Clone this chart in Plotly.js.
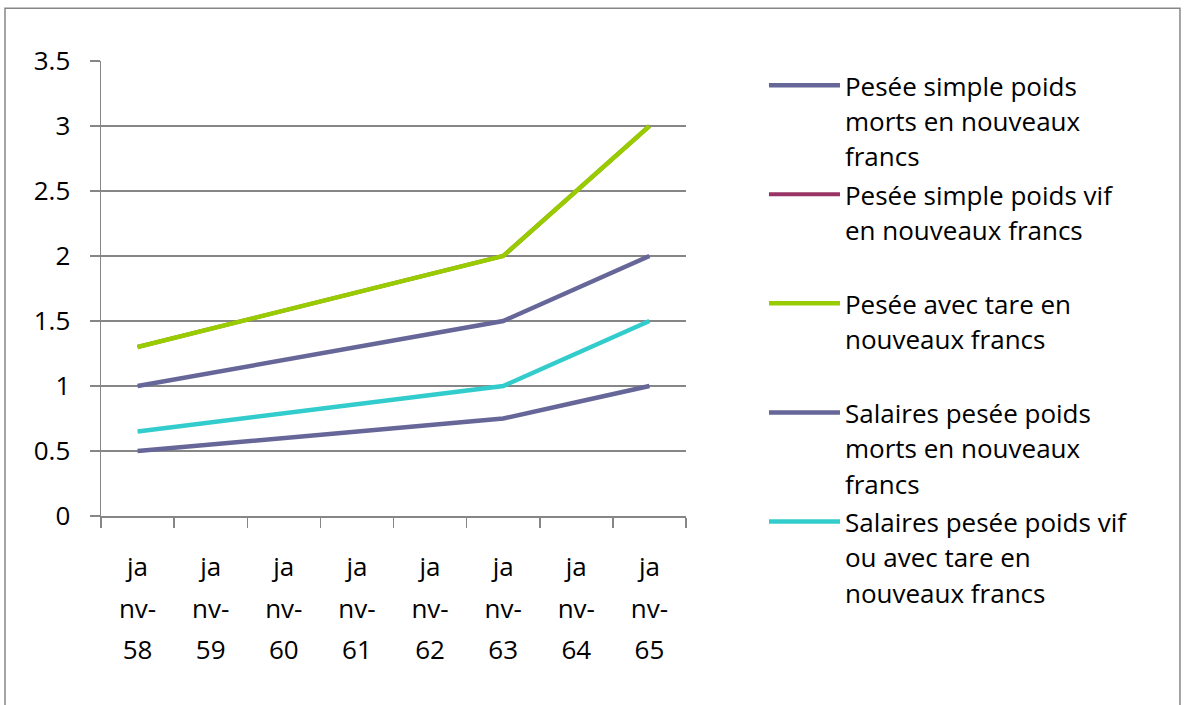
<!DOCTYPE html>
<html><head><meta charset="utf-8">
<script src="https://cdn.plot.ly/plotly-3.0.1.min.js"></script>
<style>html,body{margin:0;padding:0;background:#fff;}#chart{width:1184px;height:705px;}</style>
</head><body><div id="chart"></div>
<script>
// ---- data ----
const categories = ["janv-58","janv-59","janv-60","janv-61","janv-62","janv-63","janv-64","janv-65"];
const tickLines = [
  ["ja","nv-","58"],["ja","nv-","59"],["ja","nv-","60"],["ja","nv-","61"],
  ["ja","nv-","62"],["ja","nv-","63"],["ja","nv-","64"],["ja","nv-","65"]
];
const yTicks = [0, 0.5, 1, 1.5, 2, 2.5, 3, 3.5];
const yTickText = ["0","0.5","1","1.5","2","2.5","3","3.5"];

const nameLines = [
  ["Pesée simple poids","morts en nouveaux","francs"],
  ["Pesée simple poids vif","en nouveaux francs","\u00a0"],
  ["Pesée avec tare en","nouveaux francs","\u00a0"],
  ["Salaires pesée poids","morts en nouveaux","francs"],
  ["Salaires pesée poids vif","ou avec tare en","nouveaux francs"]
];
const pesSimpleMorts = [1.0, 1.1, 1.2, 1.3, 1.4, 1.5, 1.75, 2.0];
const pesSimpleVif   = [1.3, 1.44, 1.58, 1.72, 1.86, 2.0, 2.5, 3.0];
const pesAvecTare    = [1.3, 1.44, 1.58, 1.72, 1.86, 2.0, 2.5, 3.0];
const salMorts       = [0.5, 0.55, 0.6, 0.65, 0.7, 0.75, 0.875, 1.0];
const salVif         = [0.65, 0.72, 0.79, 0.86, 0.93, 1.0, 1.25, 1.5];
const seriesValues = [pesSimpleMorts, pesSimpleVif, pesAvecTare, salMorts, salVif];
const seriesColors = ["#666699", "#993366", "#99CC00", "#666699", "#33CCCC"];

// ---- helpers ----
const FONT = '"Open Sans", "Noto Sans", sans-serif';
const GRAY = '#868686';
function wrapLines(lines, px) {
  return lines.map(s => '<span style="font-size:' + px + 'px">' + s + '</span>').join('<br>');
}

const traces = seriesValues.map((vals, i) => ({
  type: 'scatter',
  mode: 'lines',
  x: categories,
  y: vals,
  name: wrapLines(nameLines[i], 26),
  line: {color: seriesColors[i], width: i === 1 ? 4 : 4.5},
  hoverinfo: 'skip'
}));

const layout = {
  width: 1184, height: 705,
  margin: {l: 101, r: 498, t: 61, b: 189, pad: 0},
  paper_bgcolor: '#ffffff', plot_bgcolor: '#ffffff',
  font: {family: FONT, color: '#000000', size: 26},
  showlegend: true,
  legend: {
    x: 1.1333, xanchor: 'left', y: 1.0, yanchor: 'top',
    valign: 'top', itemwidth: 71, bgcolor: 'rgba(0,0,0,0)',
    font: {family: FONT, size: 27.2, color: '#000000'},
    tracegroupgap: 0, maxheight: 690
  },
  xaxis: {
    type: 'category',
    range: [-0.5, 7.5],
    tickmode: 'array',
    tickvals: categories,
    ticktext: tickLines.map(l => wrapLines(l, 26)),
    tickangle: 0,
    tickfont: {family: FONT, size: 32, color: '#000000'},
    tickson: 'boundaries',
    ticks: 'outside', ticklen: 10, tickwidth: 1.5, tickcolor: GRAY,
    ticklabelstandoff: 20,
    showline: true, linecolor: GRAY, linewidth: 1.5,
    showgrid: false, zeroline: false,
    fixedrange: true
  },
  yaxis: {
    range: [0, 3.5],
    tickmode: 'array',
    tickvals: yTicks,
    ticktext: yTickText,
    tickfont: {family: FONT, size: 26, color: '#000000'},
    ticks: 'outside', ticklen: 10, tickwidth: 1.5, tickcolor: GRAY,
    ticklabelstandoff: 14,
    showline: true, linecolor: GRAY, linewidth: 1.5,
    showgrid: true, gridcolor: GRAY, gridwidth: 1.5,
    zeroline: false,
    fixedrange: true
  },
  shapes: [{
    type: 'rect', xref: 'paper', yref: 'paper',
    x0: -0.1641, x1: 1.8444, y0: -0.42, y1: 1.1158,
    line: {color: GRAY, width: 1.5}, fillcolor: 'rgba(0,0,0,0)', layer: 'below'
  }]
};

Plotly.newPlot('chart', traces, layout, {displayModeBar: false, staticPlot: true});
</script>
</body></html>
